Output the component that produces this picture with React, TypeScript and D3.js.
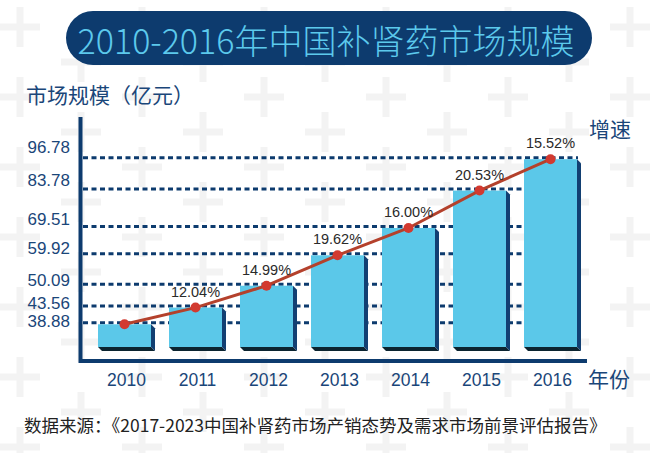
import React from 'react';
import * as d3 from 'd3';

const years = ['2010', '2011', '2012', '2013', '2014', '2015', '2016'];
const marketSize = [38.88, 43.56, 50.09, 59.92, 69.51, 83.78, 96.78];
const growthRates: (number | null)[] = [null, 12.04, 14.99, 19.62, 16.0, 20.53, 15.52];
const yTickValues = [38.88, 43.56, 50.09, 59.92, 69.51, 83.78, 96.78];

const titleText = '2010-2016年中国补肾药市场规模';
const yAxisTitle = '市场规模（亿元）';
const growthTitle = '增速';
const xAxisTitle = '年份';
const sourceText = '数据来源：《2017-2023中国补肾药市场产销态势及需求市场前景评估报告》';

const W = 650;
const H = 453;
const NAVY = '#0d3b6e';
const BAR = '#5bc8e9';
const BAR_SIDE = '#123f72';
const BAR_BOTTOM = '#0b2430';
const LINE = '#b4412c';
const DOT = '#d23a30';
const LABEL_NAVY = '#1a4679';
const CJK = '"Noto Sans CJK SC", "Noto Sans", sans-serif';
const NUM = '"Liberation Sans", Arial, sans-serif';

export default function App() {
  const x = d3.scaleBand<string>().domain(years).range([98, 577]).paddingInner(0.2535).paddingOuter(0);
  const y = d3.scaleSqrt().domain([38.88, 96.78]).range([324.3, 159.2]);
  const yLabel = d3.scaleSqrt().domain([38.88, 96.78]).range([321, 147.7]);
  const baseline = 347;
  const depth = 4;
  const bw = x.bandwidth();

  const pts = years.map((yr, i) => [(x(yr) as number) + bw / 2, y(marketSize[i])] as [number, number]);
  const linePath = d3.line()(pts) || '';

  // decorative background crosses
  const crosses: [number, number][] = [];
  d3.range(0, 11).forEach((c) => {
    const cx = 20 + c * 61;
    const off = c % 2 === 0 ? 27 : 62;
    d3.range(0, 7).forEach((r) => crosses.push([cx, off + r * 70]));
  });

  return (
    <svg width={W} height={H} style={{ position: 'absolute', left: 0, top: 0 }}>
      <rect x={0} y={0} width={W} height={H} fill="#ffffff" />
      <g fill="#f3f3f3">
        {crosses.map(([cx, cy], i) => (
          <g key={i}>
            <rect x={cx - 20} y={cy - 3.5} width={40} height={7} />
            <rect x={cx - 3.5} y={cy - 20} width={7} height={40} />
          </g>
        ))}
      </g>

      {/* title */}
      <rect x={66} y={11} width={526} height={54} rx={27} ry={27} fill={NAVY} />
      <text x={326} y={39} textAnchor="middle" dominantBaseline="central" fill="#5cc9ec" fontSize={34} fontWeight={300} fontFamily={CJK}>
        {titleText}
      </text>

      <text x={26} y={94} dominantBaseline="central" fill={LABEL_NAVY} fontSize={21} fontFamily={CJK}>
        {yAxisTitle}
      </text>
      <text x={589} y={128} dominantBaseline="central" fill={LABEL_NAVY} fontSize={21} fontFamily={CJK}>
        {growthTitle}
      </text>

      {/* gridlines */}
      <g stroke={NAVY} strokeWidth={3} strokeDasharray="5 3.5">
        {yTickValues.map((v) => (
          <line key={v} x1={83} x2={578} y1={y(v) - 1.5} y2={y(v) - 1.5} />
        ))}
      </g>

      {/* y tick labels */}
      <g fill={LABEL_NAVY} fontSize={17} fontFamily={NUM}>
        {yTickValues.map((v) => (
          <text key={v} x={70} y={yLabel(v)} textAnchor="end" dominantBaseline="central">
            {v.toFixed(2)}
          </text>
        ))}
      </g>

      {/* bars */}
      {years.map((yr, i) => {
        const x0 = x(yr) as number;
        const x1 = x0 + bw;
        const top = y(marketSize[i]);
        return (
          <g key={yr}>
            <polygon
              points={`${x0},${baseline} ${x0 + depth},${baseline + depth} ${x1 + depth},${baseline + depth} ${x1},${baseline}`}
              fill={BAR_BOTTOM}
            />
            <polygon
              points={`${x1},${top} ${x1 + depth},${top + depth} ${x1 + depth},${baseline + depth} ${x1},${baseline}`}
              fill={BAR_SIDE}
            />
            <rect x={x0} y={top} width={bw} height={baseline - top} fill={BAR} />
          </g>
        );
      })}

      {/* axes */}
      <path d="M80.5,117 V361 H587" fill="none" stroke={NAVY} strokeWidth={4} />

      {/* x labels */}
      <g fill={LABEL_NAVY} fontSize={17.5} fontFamily={NUM}>
        {years.map((yr) => (
          <text key={yr} x={(x(yr) as number) + (bw + depth) / 2} y={380} textAnchor="middle" dominantBaseline="central">
            {yr}
          </text>
        ))}
      </g>
      <text x={588} y={378} dominantBaseline="central" fill={LABEL_NAVY} fontSize={21} fontFamily={CJK}>
        {xAxisTitle}
      </text>

      {/* growth line */}
      <path d={linePath} fill="none" stroke={LINE} strokeWidth={3} />
      {pts.map(([px, py], i) => (
        <circle key={i} cx={px} cy={py} r={5} fill={DOT} />
      ))}
      <g fill="#2a2a2a" fontSize={14.5} fontFamily={NUM}>
        {pts.map(([px, py], i) =>
          growthRates[i] == null ? null : (
            <text key={i} x={px} y={py - 16} textAnchor="middle" dominantBaseline="central">
              {(growthRates[i] as number).toFixed(2)}%
            </text>
          )
        )}
      </g>

      <text x={24} y={424} dominantBaseline="central" fill="#222" fontSize={17.5} fontFamily={CJK}>
        {sourceText}
      </text>
    </svg>
  );
}
